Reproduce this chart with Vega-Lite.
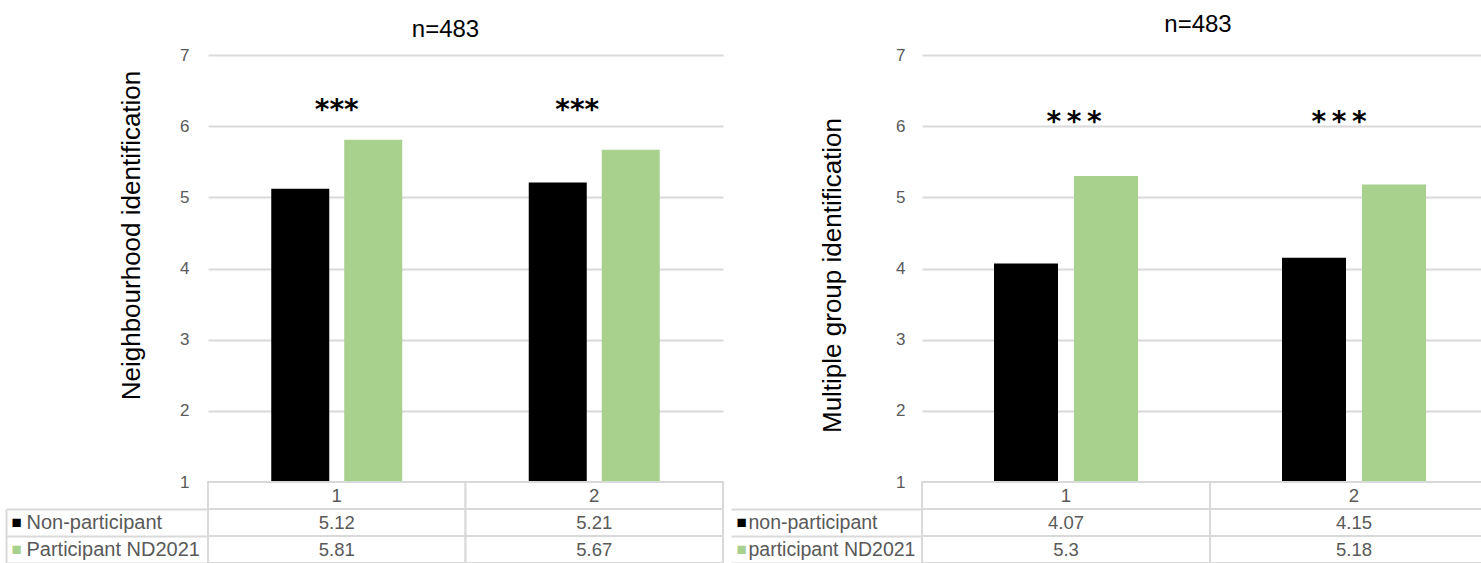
{
  "$schema": "https://vega.github.io/schema/vega-lite/v6.json",
  "background": "#ffffff",
  "padding": {"left": 5, "top": 13, "right": 0, "bottom": 0},
  "config": {
    "view": {"stroke": null},
    "font": "Liberation Sans",
    "axis": {"labelFont": "Liberation Sans", "titleFont": "Liberation Sans"}
  },
  "datasets": {
    "left": [
      {"group": "1", "series": "Non-participant", "value": 5.12},
      {"group": "1", "series": "Participant ND2021", "value": 5.81},
      {"group": "2", "series": "Non-participant", "value": 5.21},
      {"group": "2", "series": "Participant ND2021", "value": 5.67}
    ],
    "right": [
      {"group": "1", "series": "non-participant", "value": 4.07},
      {"group": "1", "series": "participant ND2021", "value": 5.3},
      {"group": "2", "series": "non-participant", "value": 4.15},
      {"group": "2", "series": "participant ND2021", "value": 5.18}
    ],
    "groups": [{"group": "1"}, {"group": "2"}]
  },
  "spacing": 6,
  "hconcat": [
    {
      "spacing": 0,
      "bounds": "flush",
      "vconcat": [
        {
          "width": 515,
          "height": 427,
          "title": {"text": "n=483", "fontSize": 24, "fontWeight": "normal", "color": "#000000", "dx": -20, "offset": 4, "font": "Liberation Sans"},
          "encoding": {
            "x": {"field": "group", "type": "nominal", "scale": {"domain": ["1", "2"], "paddingInner": 0, "paddingOuter": 0}, "axis": null}
          },
          "layer": [
            {
              "data": {"name": "left"},
              "transform": [{"filter": "datum.series == 'Non-participant'"}],
              "mark": {"type": "bar", "width": 58, "xOffset": -36.5},
              "encoding": {
                "y": {
                  "field": "value", "type": "quantitative",
                  "scale": {"domain": [1, 7], "zero": false, "nice": false},
                  "axis": {
                    "values": [1, 2, 3, 4, 5, 6, 7], "format": "d", "grid": true, "gridColor": "#d9d9d9", "gridWidth": 2,
                    "domain": false, "ticks": false, "tickSize": 0,
                    "labelFontSize": 17, "labelColor": "#595959", "labelPadding": 19,
                    "title": "Neighbourhood identification", "titleFontSize": 26, "titleFontWeight": "normal",
                    "titleColor": "#000000", "titlePadding": 35, "titleY": 180
                  }
                },
                "y2": {"datum": 1},
                "color": {"field": "series", "type": "nominal", "scale": {"domain": ["Non-participant", "Participant ND2021"], "range": ["#000000", "#a9d18e"]}, "legend": null}
              }
            },
            {
              "data": {"name": "left"},
              "transform": [{"filter": "datum.series == 'Participant ND2021'"}],
              "mark": {"type": "bar", "width": 58, "xOffset": 36.5},
              "encoding": {
                "y": {"field": "value", "type": "quantitative"},
                "y2": {"datum": 1},
                "color": {"field": "series", "type": "nominal", "legend": null}
              }
            },
            {
              "data": {"name": "groups"},
              "transform": [{"filter": "datum.group == '1'"}],
              "mark": {"type": "text", "text": "***", "font": "DejaVu Sans", "fontSize": 28, "fontWeight": "bold", "baseline": "alphabetic", "color": "#000000"},
              "encoding": {"y": {"datum": 6.1}}
            },
            {
              "data": {"name": "groups"},
              "transform": [{"filter": "datum.group == '2'"}],
              "mark": {"type": "text", "text": "***", "font": "DejaVu Sans", "fontSize": 28, "fontWeight": "bold", "baseline": "alphabetic", "color": "#000000", "xOffset": -17},
              "encoding": {"y": {"datum": 6.1}}
            }
          ]
        },
        {
          "width": 515,
          "height": 81,
          "resolve": {"scale": {"y": "independent"}, "axis": {"y": "independent"}},
          "layer": [
            {
              "layer": [
                {
                  "data": {"name": "left"},
                  "mark": {"type": "rect", "fill": "#ffffff", "stroke": "#d9d9d9", "strokeWidth": 2},
                  "encoding": {
                    "x": {"field": "group", "type": "nominal", "scale": {"paddingInner": 0, "paddingOuter": 0}, "axis": null},
                    "y": {
                      "field": "series", "type": "nominal",
                      "scale": {"domain": ["header", "Non-participant", "Participant ND2021"], "paddingInner": 0, "paddingOuter": 0},
                      "axis": {
                        "orient": "left", "domain": false, "grid": false, "title": null,
                        "ticks": true, "tickSize": 202, "tickColor": "#d9d9d9", "tickWidth": 2, "bandPosition": 1,
                        "labelAlign": "left", "labelBaseline": "middle", "labelPadding": -20,
                        "labelFontSize": 20, "labelColor": "#595959",
                        "labelExpr": "datum.value == 'header' ? '' : datum.value"
                      }
                    }
                  }
                },
                {
                  "data": {"name": "groups"},
                  "mark": {"type": "rect", "fill": "#ffffff", "stroke": "#d9d9d9", "strokeWidth": 2},
                  "encoding": {
                    "x": {"field": "group", "type": "nominal", "axis": null},
                    "y": {"datum": "header", "type": "nominal"}
                  }
                },
                {
                  "data": {"name": "groups"},
                  "mark": {"type": "text", "fontSize": 18.5, "color": "#595959", "baseline": "middle"},
                  "encoding": {
                    "x": {"field": "group", "type": "nominal", "axis": null},
                    "y": {"datum": "header", "type": "nominal"},
                    "text": {"field": "group", "type": "nominal"}
                  }
                },
                {
                  "data": {"name": "left"},
                  "mark": {"type": "text", "fontSize": 18.5, "color": "#595959", "baseline": "middle"},
                  "encoding": {
                    "x": {"field": "group", "type": "nominal", "axis": null},
                    "y": {"field": "series", "type": "nominal"},
                    "text": {"field": "value", "type": "nominal"}
                  }
                }
              ]
            },
            {
              "data": {"name": "left"},
              "mark": {"type": "rect", "opacity": 0},
              "encoding": {
                "y": {
                  "field": "series", "type": "nominal",
                  "scale": {"domain": ["header", "Non-participant", "Participant ND2021"], "paddingInner": 0, "paddingOuter": 0},
                  "axis": {
                    "orient": "left", "offset": 202, "grid": false, "title": null,
                    "domain": true, "domainColor": "#d9d9d9", "domainWidth": 2, "domainDash": [0, 27, 60],
                    "ticks": false, "tickSize": 0,
                    "labelAlign": "left", "labelBaseline": "middle", "labelPadding": -5,
                    "labelFontSize": 17, "labelFont": "Liberation Sans",
                    "labelExpr": "datum.value == 'header' ? '' : '■'",
                    "labelColor": {"condition": {"test": "datum.value == 'Participant ND2021'", "value": "#a9d18e"}, "value": "#000000"}
                  }
                }
              }
            }
          ]
        }
      ]
    },
    {
      "spacing": 0,
      "bounds": "flush",
      "vconcat": [
        {
          "width": 576,
          "height": 427,
          "title": {"text": "n=483", "fontSize": 24, "fontWeight": "normal", "color": "#000000", "dx": -12, "offset": 9, "font": "Liberation Sans"},
          "encoding": {
            "x": {"field": "group", "type": "nominal", "scale": {"domain": ["1", "2"], "paddingInner": 0, "paddingOuter": 0}, "axis": null}
          },
          "layer": [
            {
              "data": {"name": "right"},
              "transform": [{"filter": "datum.series == 'non-participant'"}],
              "mark": {"type": "bar", "width": 64, "xOffset": -40},
              "encoding": {
                "y": {
                  "field": "value", "type": "quantitative",
                  "scale": {"domain": [1, 7], "zero": false, "nice": false},
                  "axis": {
                    "values": [1, 2, 3, 4, 5, 6, 7], "format": "d", "grid": true, "gridColor": "#d9d9d9", "gridWidth": 2,
                    "domain": false, "ticks": false, "tickSize": 0,
                    "labelFontSize": 17, "labelColor": "#595959", "labelPadding": 17,
                    "title": "Multiple group identification", "titleFontSize": 26, "titleFontWeight": "normal",
                    "titleColor": "#000000", "titlePadding": 50, "titleY": 220
                  }
                },
                "y2": {"datum": 1},
                "color": {"field": "series", "type": "nominal", "scale": {"domain": ["non-participant", "participant ND2021"], "range": ["#000000", "#a9d18e"]}, "legend": null}
              }
            },
            {
              "data": {"name": "right"},
              "transform": [{"filter": "datum.series == 'participant ND2021'"}],
              "mark": {"type": "bar", "width": 64, "xOffset": 40},
              "encoding": {
                "y": {"field": "value", "type": "quantitative"},
                "y2": {"datum": 1},
                "color": {"field": "series", "type": "nominal", "legend": null}
              }
            },
            {
              "data": {"name": "groups"},
              "transform": [{"filter": "datum.group == '1'"}],
              "mark": {"type": "text", "text": "*\u2009*\u2009*", "font": "DejaVu Sans", "fontSize": 28, "fontWeight": "bold", "baseline": "alphabetic", "color": "#000000", "xOffset": 8},
              "encoding": {"y": {"datum": 5.93}}
            },
            {
              "data": {"name": "groups"},
              "transform": [{"filter": "datum.group == '2'"}],
              "mark": {"type": "text", "text": "*\u2009*\u2009*", "font": "DejaVu Sans", "fontSize": 28, "fontWeight": "bold", "baseline": "alphabetic", "color": "#000000", "xOffset": -15},
              "encoding": {"y": {"datum": 5.93}}
            }
          ]
        },
        {
          "width": 576,
          "height": 81,
          "resolve": {"scale": {"y": "independent"}, "axis": {"y": "independent"}},
          "layer": [
            {
              "layer": [
                {
                  "data": {"name": "right"},
                  "mark": {"type": "rect", "fill": "#ffffff", "stroke": "#d9d9d9", "strokeWidth": 2},
                  "encoding": {
                    "x": {"field": "group", "type": "nominal", "scale": {"paddingInner": 0, "paddingOuter": 0}, "axis": null},
                    "y": {
                      "field": "series", "type": "nominal",
                      "scale": {"domain": ["header", "non-participant", "participant ND2021"], "paddingInner": 0, "paddingOuter": 0},
                      "axis": {
                        "orient": "left", "domain": false, "grid": false, "title": null,
                        "ticks": true, "tickSize": 191, "tickColor": "#d9d9d9", "tickWidth": 2, "bandPosition": 1,
                        "labelAlign": "left", "labelBaseline": "middle", "labelPadding": -17,
                        "labelFontSize": 19.5, "labelColor": "#595959",
                        "labelExpr": "datum.value == 'header' ? '' : datum.value"
                      }
                    }
                  }
                },
                {
                  "data": {"name": "groups"},
                  "mark": {"type": "rect", "fill": "#ffffff", "stroke": "#d9d9d9", "strokeWidth": 2},
                  "encoding": {
                    "x": {"field": "group", "type": "nominal", "axis": null},
                    "y": {"datum": "header", "type": "nominal"}
                  }
                },
                {
                  "data": {"name": "groups"},
                  "mark": {"type": "text", "fontSize": 18.5, "color": "#595959", "baseline": "middle"},
                  "encoding": {
                    "x": {"field": "group", "type": "nominal", "axis": null},
                    "y": {"datum": "header", "type": "nominal"},
                    "text": {"field": "group", "type": "nominal"}
                  }
                },
                {
                  "data": {"name": "right"},
                  "mark": {"type": "text", "fontSize": 18.5, "color": "#595959", "baseline": "middle"},
                  "encoding": {
                    "x": {"field": "group", "type": "nominal", "axis": null},
                    "y": {"field": "series", "type": "nominal"},
                    "text": {"field": "value", "type": "nominal"}
                  }
                }
              ]
            },
            {
              "data": {"name": "right"},
              "mark": {"type": "rect", "opacity": 0},
              "encoding": {
                "y": {
                  "field": "series", "type": "nominal",
                  "scale": {"domain": ["header", "non-participant", "participant ND2021"], "paddingInner": 0, "paddingOuter": 0},
                  "axis": {
                    "orient": "left", "offset": 191, "grid": false, "title": null,
                    "domain": false,
                    "ticks": false, "tickSize": 0,
                    "labelAlign": "left", "labelBaseline": "middle", "labelPadding": -5,
                    "labelFontSize": 17, "labelFont": "Liberation Sans",
                    "labelExpr": "datum.value == 'header' ? '' : '■'",
                    "labelColor": {"condition": {"test": "datum.value == 'participant ND2021'", "value": "#a9d18e"}, "value": "#000000"}
                  }
                }
              }
            }
          ]
        }
      ]
    }
  ]
}
